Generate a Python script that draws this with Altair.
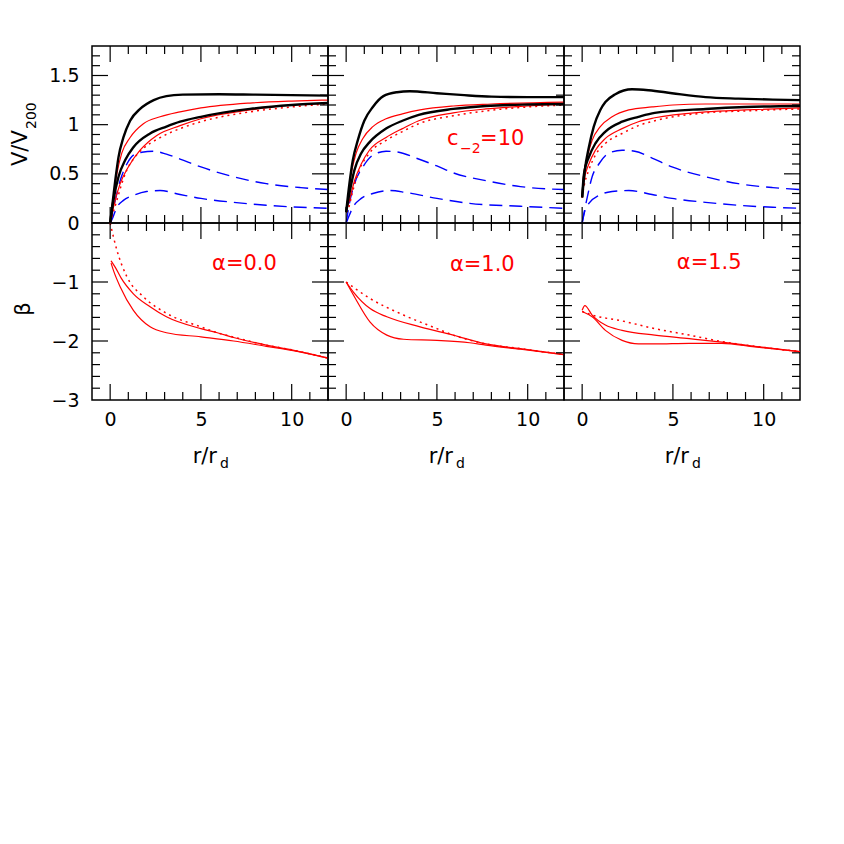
import altair as alt
import pandas as pd

FONT = "DejaVu Sans"
W, H = 236, 177
X_DOMAIN = [-1, 12]
V_DOMAIN = [0, 1.8]
B_DOMAIN = [-3, 0]

# ---------------- tick positions / labels ----------------
X_LABELS = [0, 5, 10]
X_MAJOR = [0, 5, 10]
X_MINOR = [1, 2, 3, 4, 6, 7, 8, 9, 11]
V_LABELS = [0.5, 1, 1.5]
V_MAJOR = [0.5, 1.0, 1.5]
V_MINOR = [0.1, 0.2, 0.3, 0.4, 0.6, 0.7, 0.8, 0.9, 1.1, 1.2, 1.3, 1.4, 1.6, 1.7]
B_LABELS = [-3, -2, -1, 0]
B_MAJOR = [-2, -1]
B_MINOR = [-2.8, -2.6, -2.4, -2.2, -1.8, -1.6, -1.4, -1.2, -0.8, -0.6, -0.4, -0.2]

# ---------------- V/V200 curves : alpha = 0.0 ----------------
A0_BLACK_HI_X = [0, 0.15, 0.28, 0.46, 0.73, 1.1, 1.65, 2.4, 3.1, 4.0, 6.0, 8.0, 10.0, 12.0]
A0_BLACK_HI_V = [0, 0.23, 0.43, 0.67, 0.87, 1.04, 1.16, 1.25, 1.29, 1.305, 1.31, 1.305, 1.30, 1.295]
A0_RED_HI_X = [0, 0.18, 0.37, 0.64, 1.1, 1.83, 2.75, 3.85, 5.0, 7.7, 10.0, 12.0]
A0_RED_HI_V = [0, 0.26, 0.50, 0.71, 0.87, 1.01, 1.08, 1.13, 1.17, 1.22, 1.24, 1.25]
A0_BLACK_LO_X = [0, 0.18, 0.46, 0.83, 1.28, 2.2, 3.1, 3.85, 5.0, 7.7, 10.0, 12.0]
A0_BLACK_LO_V = [0, 0.23, 0.47, 0.64, 0.77, 0.91, 0.98, 1.03, 1.08, 1.16, 1.20, 1.22]
A0_RED_LO_X = [0, 0.18, 0.55, 1.0, 1.65, 2.57, 3.85, 5.0, 7.7, 10.0, 12.0]
A0_RED_LO_V = [0, 0.16, 0.40, 0.57, 0.74, 0.89, 0.99, 1.06, 1.15, 1.20, 1.22]
A0_RED_DOT_X = [0, 0.09, 0.37, 0.64, 0.92, 1.28, 1.83, 2.57, 3.85, 5.0, 7.7, 10.0, 12.0]
A0_RED_DOT_V = [0, 0.06, 0.23, 0.40, 0.54, 0.65, 0.76, 0.85, 0.96, 1.03, 1.13, 1.18, 1.21]
A0_BLUE_HI_X = [0, 0.28, 0.55, 0.92, 1.28, 1.74, 2.4, 3.1, 3.85, 5.0, 6.8, 8.6, 10.5, 12.0]
A0_BLUE_HI_V = [0, 0.23, 0.43, 0.60, 0.69, 0.72, 0.73, 0.70, 0.65, 0.57, 0.47, 0.40, 0.36, 0.34]
A0_BLUE_LO_X = [0, 0.09, 0.37, 0.73, 1.28, 2.0, 2.75, 3.85, 5.0, 6.8, 8.6, 10.5, 12.0]
A0_BLUE_LO_V = [0, 0.03, 0.16, 0.23, 0.28, 0.32, 0.33, 0.29, 0.25, 0.21, 0.18, 0.16, 0.15]

# ---------------- V/V200 curves : alpha = 1.0 ----------------
A1_BLACK_HI_X = [0, 0.18, 0.37, 0.64, 1.0, 1.47, 2.05, 2.8, 3.5, 5.0, 6.5, 8.0, 10.0, 12.0]
A1_BLACK_HI_V = [0.11, 0.40, 0.64, 0.84, 1.04, 1.18, 1.29, 1.33, 1.34, 1.32, 1.30, 1.285, 1.28, 1.28]
A1_RED_HI_X = [0, 0.09, 0.28, 0.55, 0.92, 1.47, 2.2, 3.1, 4.07, 5.9, 8.0, 12.0]
A1_RED_HI_V = [0.11, 0.23, 0.50, 0.71, 0.86, 0.98, 1.06, 1.11, 1.15, 1.19, 1.21, 1.23]
A1_BLACK_LO_X = [0, 0.18, 0.46, 0.83, 1.28, 2.2, 3.1, 4.0, 5.9, 7.7, 10.0, 12.0]
A1_BLACK_LO_V = [0.11, 0.30, 0.54, 0.71, 0.82, 0.96, 1.04, 1.10, 1.16, 1.19, 1.205, 1.21]
A1_RED_LO_X = [0, 0.18, 0.46, 0.83, 1.28, 2.2, 3.1, 4.0, 5.9, 7.7, 10.0, 12.0]
A1_RED_LO_V = [0.11, 0.23, 0.43, 0.60, 0.74, 0.87, 0.96, 1.04, 1.12, 1.16, 1.19, 1.21]
A1_RED_DOT_X = [0, 0.09, 0.37, 0.73, 1.28, 2.2, 3.1, 4.0, 5.9, 7.7, 10.0, 12.0]
A1_RED_DOT_V = [0.11, 0.13, 0.33, 0.54, 0.71, 0.84, 0.93, 1.01, 1.09, 1.14, 1.18, 1.20]
A1_BLUE_HI_X = [0, 0.18, 0.46, 0.92, 1.47, 2.2, 2.9, 3.85, 5.0, 5.9, 7.7, 9.6, 12.0]
A1_BLUE_HI_V = [0, 0.20, 0.40, 0.57, 0.69, 0.73, 0.72, 0.66, 0.58, 0.51, 0.43, 0.37, 0.34]
A1_BLUE_LO_X = [0, 0.09, 0.37, 0.83, 1.47, 2.4, 3.3, 5.0, 6.8, 9.6, 12.0]
A1_BLUE_LO_V = [0, 0.04, 0.16, 0.25, 0.30, 0.33, 0.31, 0.25, 0.20, 0.17, 0.15]

# ---------------- V/V200 curves : alpha = 1.5 ----------------
A15_BLACK_HI_X = [0, 0.15, 0.37, 0.64, 1.0, 1.28, 1.83, 2.75, 3.67, 4.95, 6.8, 8.6, 10.5, 12.0]
A15_BLACK_HI_V = [0.26, 0.54, 0.77, 0.98, 1.15, 1.23, 1.31, 1.36, 1.35, 1.32, 1.28, 1.265, 1.255, 1.25]
A15_RED_HI_X = [0, 0.05, 0.28, 0.55, 1.0, 1.65, 2.57, 3.85, 5.0, 6.8, 9.0, 12.0]
A15_RED_HI_V = [0.26, 0.43, 0.67, 0.84, 0.98, 1.08, 1.15, 1.18, 1.20, 1.21, 1.21, 1.21]
A15_BLACK_LO_X = [0, 0.1, 0.37, 0.73, 1.28, 2.2, 3.1, 4.0, 6.8, 9.0, 12.0]
A15_BLACK_LO_V = [0.26, 0.50, 0.67, 0.81, 0.93, 1.03, 1.08, 1.12, 1.16, 1.18, 1.19]
A15_RED_LO_X = [0, 0.1, 0.37, 0.73, 1.28, 2.2, 3.1, 4.0, 6.8, 9.0, 12.0]
A15_RED_LO_V = [0.26, 0.43, 0.60, 0.74, 0.86, 0.96, 1.03, 1.07, 1.13, 1.15, 1.17]
A15_RED_DOT_X = [0, 0.1, 0.37, 0.73, 1.28, 2.2, 3.1, 4.0, 6.8, 9.0, 12.0]
A15_RED_DOT_V = [0.26, 0.37, 0.54, 0.69, 0.81, 0.91, 0.99, 1.04, 1.12, 1.14, 1.16]
A15_BLUE_HI_X = [0, 0.28, 0.55, 0.92, 1.47, 2.2, 2.9, 3.85, 4.95, 6.8, 8.6, 10.5, 12.0]
A15_BLUE_HI_V = [0, 0.26, 0.47, 0.60, 0.71, 0.74, 0.73, 0.66, 0.57, 0.47, 0.40, 0.36, 0.34]
A15_BLUE_LO_X = [0, 0.1, 0.37, 0.92, 1.65, 2.57, 3.85, 4.95, 6.8, 8.6, 10.5, 12.0]
A15_BLUE_LO_V = [0, 0.09, 0.20, 0.28, 0.32, 0.33, 0.29, 0.25, 0.21, 0.18, 0.16, 0.15]

# ---------------- beta curves ----------------
A0_B_HI_X = [0.05, 0.3, 0.6, 1.28, 2.2, 3.1, 5.0, 5.9, 6.8, 8.6, 10.0, 12.0]
A0_B_HI_B = [-0.64, -0.76, -0.93, -1.20, -1.42, -1.59, -1.79, -1.86, -1.94, -2.07, -2.15, -2.29]
A0_B_LO_X = [0.05, 0.2, 0.55, 1.28, 2.2, 3.1, 5.0, 6.8, 8.6, 10.0, 12.0]
A0_B_LO_B = [-0.68, -0.82, -1.08, -1.48, -1.76, -1.86, -1.93, -2.00, -2.09, -2.16, -2.29]
A0_B_DOT_X = [0, 0.37, 0.92, 1.83, 3.1, 5.0, 5.9, 7.0, 8.6, 10.0, 12.0]
A0_B_DOT_B = [0, -0.46, -0.91, -1.25, -1.53, -1.76, -1.86, -1.95, -2.07, -2.15, -2.29]

A1_B_HI_X = [0, 0.4, 1.32, 2.24, 4.07, 5.9, 7.7, 9.6, 12.0]
A1_B_HI_B = [-1.0, -1.17, -1.45, -1.59, -1.76, -1.90, -2.05, -2.13, -2.23]
A1_B_LO_X = [0, 0.4, 1.32, 2.24, 3.16, 5.0, 6.8, 7.7, 9.6, 12.0]
A1_B_LO_B = [-1.0, -1.22, -1.68, -1.90, -1.97, -1.99, -2.03, -2.07, -2.14, -2.23]
A1_B_DOT_X = [0, 1.32, 3.16, 5.0, 5.9, 7.7, 9.6, 12.0]
A1_B_DOT_B = [-1.0, -1.28, -1.56, -1.79, -1.90, -2.05, -2.13, -2.23]

A15_B_HI_X = [0, 0.15, 0.55, 1.28, 2.2, 4.0, 5.9, 7.7, 9.5, 12.0]
A15_B_HI_B = [-1.48, -1.40, -1.56, -1.73, -1.82, -1.90, -1.96, -2.02, -2.09, -2.18]
A15_B_LO_X = [0, 0.55, 1.28, 2.2, 3.1, 4.0, 5.9, 7.7, 9.5, 12.0]
A15_B_LO_B = [-1.50, -1.59, -1.82, -1.99, -2.05, -2.05, -2.04, -2.04, -2.10, -2.18]
A15_B_DOT_X = [0, 0.55, 2.2, 4.0, 5.9, 7.7, 9.5, 12.0]
A15_B_DOT_B = [-1.50, -1.56, -1.66, -1.79, -1.90, -2.01, -2.09, -2.18]

# ---------------- annotations ----------------
ALPHA_LABELS = ["α=0.0", "α=1.0", "α=1.5"]
ALPHA_X = [7.4, 7.5, 7.0]
ALPHA_Y = [-0.69, -0.71, -0.68]
C_PARTS = ["c", "−2", "=10"]
C_X = 5.56
C_Y = 0.79

# ---------------- build long table ----------------
TOP_SERIES = {
    0: [("blue", "blue_hi", A0_BLUE_HI_X, A0_BLUE_HI_V), ("blue", "blue_lo", A0_BLUE_LO_X, A0_BLUE_LO_V),
        ("dot", "red_dot", A0_RED_DOT_X, A0_RED_DOT_V), ("red", "red_hi", A0_RED_HI_X, A0_RED_HI_V),
        ("red", "red_lo", A0_RED_LO_X, A0_RED_LO_V), ("black", "black_hi", A0_BLACK_HI_X, A0_BLACK_HI_V),
        ("black", "black_lo", A0_BLACK_LO_X, A0_BLACK_LO_V)],
    1: [("blue", "blue_hi", A1_BLUE_HI_X, A1_BLUE_HI_V), ("blue", "blue_lo", A1_BLUE_LO_X, A1_BLUE_LO_V),
        ("dot", "red_dot", A1_RED_DOT_X, A1_RED_DOT_V), ("red", "red_hi", A1_RED_HI_X, A1_RED_HI_V),
        ("red", "red_lo", A1_RED_LO_X, A1_RED_LO_V), ("black", "black_hi", A1_BLACK_HI_X, A1_BLACK_HI_V),
        ("black", "black_lo", A1_BLACK_LO_X, A1_BLACK_LO_V)],
    2: [("blue", "blue_hi", A15_BLUE_HI_X, A15_BLUE_HI_V), ("blue", "blue_lo", A15_BLUE_LO_X, A15_BLUE_LO_V),
        ("dot", "red_dot", A15_RED_DOT_X, A15_RED_DOT_V), ("red", "red_hi", A15_RED_HI_X, A15_RED_HI_V),
        ("red", "red_lo", A15_RED_LO_X, A15_RED_LO_V), ("black", "black_hi", A15_BLACK_HI_X, A15_BLACK_HI_V),
        ("black", "black_lo", A15_BLACK_LO_X, A15_BLACK_LO_V)],
}
BOT_SERIES = {
    0: [("dot", "b_dot", A0_B_DOT_X, A0_B_DOT_B), ("red", "b_hi", A0_B_HI_X, A0_B_HI_B),
        ("red", "b_lo", A0_B_LO_X, A0_B_LO_B)],
    1: [("dot", "b_dot", A1_B_DOT_X, A1_B_DOT_B), ("red", "b_hi", A1_B_HI_X, A1_B_HI_B),
        ("red", "b_lo", A1_B_LO_X, A1_B_LO_B)],
    2: [("dot", "b_dot", A15_B_DOT_X, A15_B_DOT_B), ("red", "b_hi", A15_B_HI_X, A15_B_HI_B),
        ("red", "b_lo", A15_B_LO_X, A15_B_LO_B)],
}

STYLES = {
    "blue": dict(color="#0000ff", strokeWidth=1.4, strokeDash=[13, 7]),
    "dot": dict(color="#ff0000", strokeWidth=1.5, strokeDash=[2, 4]),
    "red": dict(color="#ff0000", strokeWidth=1.2),
    "black": dict(color="#000000", strokeWidth=2.4),
}


def table(series_list):
    rows = []
    for style, name, xs, ys in series_list:
        for xv, yv in zip(xs, ys):
            rows.append({"style": style, "series": name, "x": xv, "y": yv})
    return pd.DataFrame(rows)


def x_enc(row):
    if row == "bottom":
        axis = alt.Axis(values=X_LABELS, format="d", title=None, ticks=False, tickSize=0,
                        domain=False, grid=False, labelPadding=10, labelFontSize=19,
                        labelFont=FONT, labelColor="black", labelFlush=False, labelOverlap=False)
    else:
        axis = None
    return alt.X("x:Q", scale=alt.Scale(domain=X_DOMAIN, nice=False, zero=False), axis=axis)


def y_enc(row, col):
    dom = V_DOMAIN if row == "top" else B_DOMAIN
    vals = V_LABELS if row == "top" else B_LABELS
    if col == 0:
        axis = alt.Axis(values=vals, format="~g", title=None, ticks=False, tickSize=0,
                        domain=False, grid=False, labelPadding=13, labelFontSize=19,
                        labelFont=FONT, labelColor="black", labelFlush=False, labelOverlap=False)
    else:
        axis = None
    return alt.Y("y:Q", scale=alt.Scale(domain=dom, nice=False, zero=False), axis=axis)


def tick_layers(row, col):
    layers = []
    xmaj = pd.DataFrame({"x": X_MAJOR})
    xmin = pd.DataFrame({"x": X_MINOR})
    ymaj = pd.DataFrame({"y": V_MAJOR if row == "top" else B_MAJOR})
    ymin = pd.DataFrame({"y": V_MINOR if row == "top" else B_MINOR})
    for d, ln in ((xmaj, 16), (xmin, 8)):
        layers.append(alt.Chart(d).mark_rule(color="black", strokeWidth=1.2).encode(
            x=x_enc(row), y=alt.value(H), y2=alt.value(H - ln)))
        layers.append(alt.Chart(d).mark_rule(color="black", strokeWidth=1.2).encode(
            x=x_enc(row), y=alt.value(0), y2=alt.value(ln)))
    for d, ln in ((ymaj, 16), (ymin, 8)):
        layers.append(alt.Chart(d).mark_rule(color="black", strokeWidth=1.2).encode(
            y=y_enc(row, col), x=alt.value(0), x2=alt.value(ln)))
        layers.append(alt.Chart(d).mark_rule(color="black", strokeWidth=1.2).encode(
            y=y_enc(row, col), x=alt.value(W), x2=alt.value(W - ln)))
    return layers


def panel(row, col):
    series = TOP_SERIES[col] if row == "top" else BOT_SERIES[col]
    df = table(series)
    layers = []
    for style in ["blue", "dot", "red", "black"]:
        sub = df[df["style"] == style]
        if len(sub) == 0:
            continue
        layers.append(alt.Chart(sub).mark_line(interpolate="monotone", clip=True,
                                               **STYLES[style]).encode(
            x=x_enc(row), y=y_enc(row, col), detail="series:N", order="x:Q"))
    layers += tick_layers(row, col)

    if row == "bottom":
        lab = pd.DataFrame({"x": [ALPHA_X[col]], "y": [ALPHA_Y[col]], "t": [ALPHA_LABELS[col]]})
        layers.append(alt.Chart(lab).mark_text(color="#ff0000", fontSize=21, font=FONT,
                                               align="center", baseline="middle").encode(
            x=x_enc(row), y=y_enc(row, col), text="t:N"))
        xt = pd.DataFrame({"t": ["r/r"]})
        layers.append(alt.Chart(xt).mark_text(color="black", fontSize=21, font=FONT,
                                              align="right", baseline="alphabetic").encode(
            x=alt.value(125), y=alt.value(240), text="t:N"))
        xs = pd.DataFrame({"t": ["d"]})
        layers.append(alt.Chart(xs).mark_text(color="black", fontSize=14, font=FONT,
                                              align="left", baseline="alphabetic").encode(
            x=alt.value(128), y=alt.value(245), text="t:N"))
        if col == 0:
            bt = pd.DataFrame({"t": ["β"]})
            layers.append(alt.Chart(bt).mark_text(color="black", fontSize=21, font=FONT, angle=270,
                                                  align="center", baseline="alphabetic").encode(
                x=alt.value(-62), y=alt.value(86), text="t:N"))
    else:
        if col == 0:
            vt = pd.DataFrame({"t": ["V/V"]})
            layers.append(alt.Chart(vt).mark_text(color="black", fontSize=21, font=FONT, angle=270,
                                                  align="left", baseline="alphabetic").encode(
                x=alt.value(-65.5), y=alt.value(120), text="t:N"))
            vs = pd.DataFrame({"t": ["200"]})
            layers.append(alt.Chart(vs).mark_text(color="black", fontSize=14, font=FONT, angle=270,
                                                  align="left", baseline="alphabetic",
                                                  dx=37, dy=9).encode(
                x=alt.value(-65.5), y=alt.value(120), text="t:N"))
        if col == 1:
            c1 = pd.DataFrame({"x": [C_X], "y": [C_Y], "t": [C_PARTS[0]]})
            c2 = pd.DataFrame({"x": [C_X], "y": [C_Y], "t": [C_PARTS[1]]})
            c3 = pd.DataFrame({"x": [C_X], "y": [C_Y], "t": [C_PARTS[2]]})
            layers.append(alt.Chart(c1).mark_text(color="#ff0000", fontSize=21, font=FONT,
                                                  align="left", baseline="alphabetic").encode(
                x=x_enc(row), y=y_enc(row, col), text="t:N"))
            layers.append(alt.Chart(c2).mark_text(color="#ff0000", fontSize=14, font=FONT,
                                                  align="left", baseline="alphabetic",
                                                  dx=13, dy=8).encode(
                x=x_enc(row), y=y_enc(row, col), text="t:N"))
            layers.append(alt.Chart(c3).mark_text(color="#ff0000", fontSize=21, font=FONT,
                                                  align="left", baseline="alphabetic",
                                                  dx=33).encode(
                x=x_enc(row), y=y_enc(row, col), text="t:N"))

    return alt.layer(*layers).properties(width=W, height=H)


panels = [panel("top", c) for c in range(3)] + [panel("bottom", c) for c in range(3)]

chart = alt.ConcatChart(
    concat=panels, columns=3, spacing=0, bounds="flush"
).resolve_scale(
    x="independent", y="independent"
).properties(
    padding={"top": 36, "left": 0, "right": 5, "bottom": 5}
).configure(
    font=FONT, background="white"
).configure_view(
    stroke="black", strokeWidth=1.5
)

chart.save("out.html", embed_options={"renderer": "svg", "actions": False})
